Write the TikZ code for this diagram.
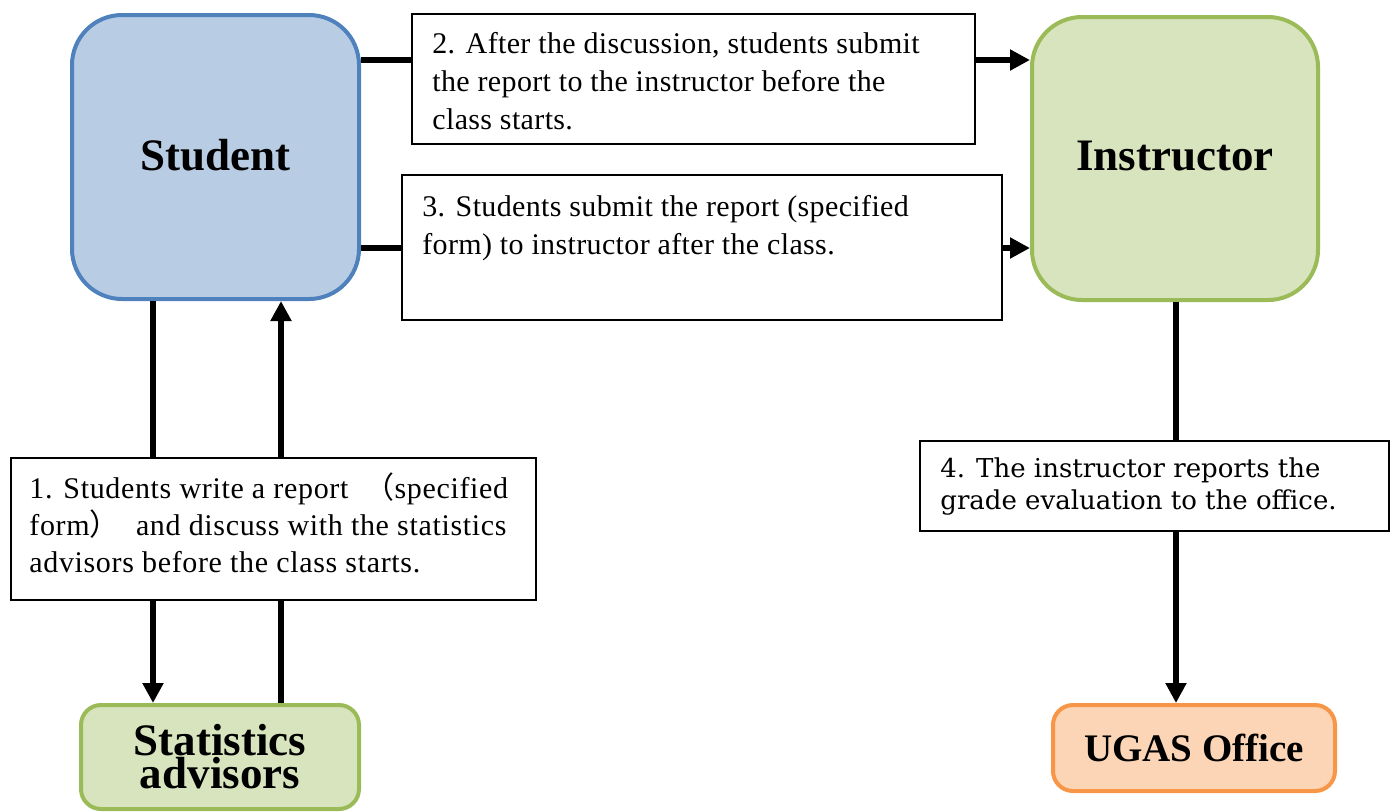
\documentclass[tikz,border=0pt]{standalone}
\usepackage{fontspec}
\setmainfont{Liberation Serif}
\newfontfamily\bodyA[LetterSpace=1.2]{Liberation Serif}
\newfontfamily\bodyB[LetterSpace=2.2]{Liberation Serif}
\newfontfamily\cjk{Noto Sans CJK JP}
\newfontfamily\century{DejaVu Serif}
\usetikzlibrary{arrows.meta}
\definecolor{stuFill}{HTML}{B8CCE4}
\definecolor{stuLine}{HTML}{4F81BD}
\definecolor{grnFill}{HTML}{D7E4BD}
\definecolor{grnLine}{HTML}{9BBB59}
\definecolor{orgFill}{HTML}{FBD5B5}
\definecolor{orgLine}{HTML}{F79646}
\begin{document}
\begin{tikzpicture}[x=0.5pt,y=-0.5pt,
  bigbox/.style={draw, line width=2pt, rounded corners=25pt, inner sep=0pt,
    font=\fontsize{22.5}{27}\selectfont\bfseries, text depth=0.25em},
  smallbox/.style={draw, line width=2pt, rounded corners=10pt, inner sep=0pt,
    align=center},
  textbox/.style={draw, line width=1pt, fill=white, inner sep=0pt},
  bodytext/.style={anchor=base west, align=left, inner sep=0pt,
    font=\bodyA\fontsize{15}{19}\selectfont},
  conn/.style={line width=3pt},
  arr/.style={line width=3pt, -{Triangle[length=10pt,width=10pt]}}
]
\useasboundingbox (0,0) rectangle (1394,811);

% main boxes
\node[bigbox, fill=stuFill, draw=stuLine, minimum width=143.5pt, minimum height=142pt] (stu) at (215.5,157) {Student};
\node[bigbox, fill=grnFill, draw=grnLine, minimum width=143pt, minimum height=141.5pt] (ins) at (1175,158.5) {Instructor};
\node[smallbox, fill=grnFill, draw=grnLine, minimum width=139pt, minimum height=52pt,
  font=\fontsize{22.5}{16.5}\selectfont\bfseries] (sa) at (220,757) {Statistics\\advisors};
\node[smallbox, fill=orgFill, draw=orgLine, minimum width=141pt, minimum height=43pt,
  font=\fontsize{19.5}{22}\selectfont\bfseries] (ugas) at (1194,748) {UGAS Office};

% text boxes
\node[textbox, minimum width=281.5pt, minimum height=65pt] (b2) at (693.5,79) {};
\node[textbox, minimum width=300pt, minimum height=72.5pt] (b3) at (702,247.5) {};
\node[textbox, minimum width=262.5pt, minimum height=71pt] (b1) at (273.5,529) {};
\node[textbox, minimum width=234.5pt, minimum height=45pt] (b4) at (1154.5,486) {};

% texts (anchored at the baseline of their last line)
\node[bodytext] (t2) at (432,129.5) {2. After the discussion, students submit\\the report to the instructor before the\\class starts.};
\node[bodytext] (t3) at (422,254) {3. Students submit the report (specified\\form) to instructor after the class.};
\node[bodytext, font=\bodyB\fontsize{15}{18.5}\selectfont] (t1) at (29,572) {1. Students write a report\hspace{4pt} {\cjk （}specified\\form{\cjk ）}\ \ and discuss with the statistics\\advisors before the class starts.};
\node[bodytext, font=\century\fontsize{13}{16}\selectfont] (t4) at (940,509) {4. The instructor reports the\\grade evaluation to the office.};

% connectors top
\draw[conn] (stu.east |- 0,60) -- (b2.west |- 0,60);
\draw[arr] (b2.east |- 0,60) -- (ins.west |- 0,60);
\draw[conn] (stu.east |- 0,248) -- (b3.west |- 0,248);
\draw[arr] (b3.east |- 0,248) -- (ins.west |- 0,248);

% connectors left
\draw[conn] (stu.south -| 153,0) -- (b1.north -| 153,0);
\draw[arr] (b1.south -| 153,0) -- (sa.north -| 153,0);
\draw[conn] (sa.north -| 281,0) -- (b1.south -| 281,0);
\draw[arr] (b1.north -| 281,0) -- (stu.south -| 281,0);

% connectors right
\draw[conn] (ins.south -| 1176,0) -- (b4.north -| 1176,0);
\draw[arr] (b4.south -| 1176,0) -- (ugas.north -| 1176,0);
\end{tikzpicture}
\end{document}
